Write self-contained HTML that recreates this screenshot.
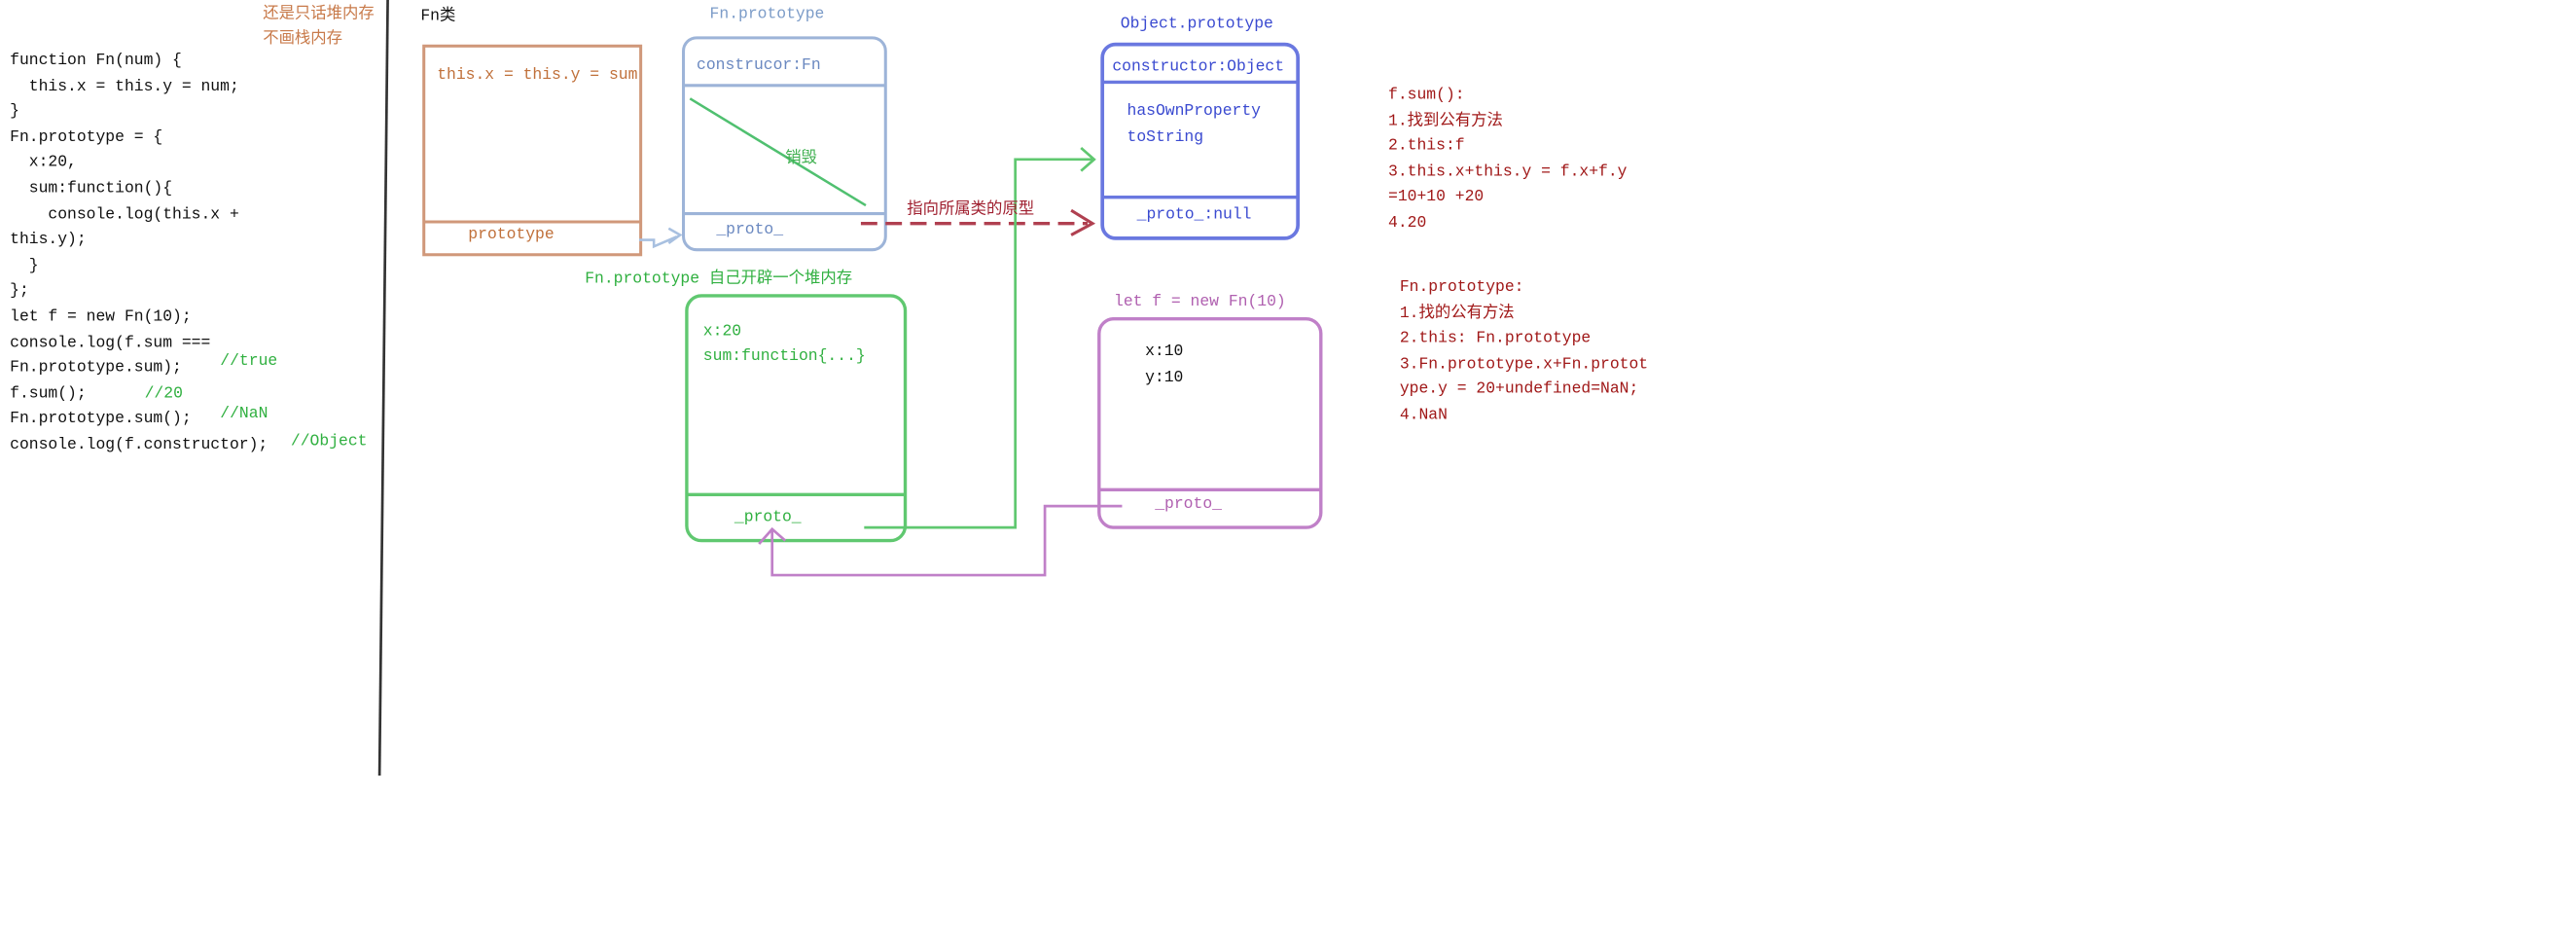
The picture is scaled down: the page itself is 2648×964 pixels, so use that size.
<!DOCTYPE html>
<html><head><meta charset="utf-8"><style>
html,body{margin:0;padding:0;background:#fff;}
body{width:2648px;height:964px;overflow:hidden;position:relative;}
#w{position:absolute;left:0;top:0;width:1568px;height:571px;transform:scale(1.6888);transform-origin:0 0;}
.t{position:absolute;white-space:nowrap;font-family:"Liberation Mono","Noto Sans CJK SC",monospace;font-size:9.7px;line-height:12px;}
.b{position:absolute;box-sizing:border-box;}
</style></head><body><div id="w">
<svg width="1568" height="571" style="position:absolute;left:0;top:0">
<line x1="236" y1="0" x2="231" y2="472" stroke="#333" stroke-width="1.6"/>
<rect x="258" y="28" width="132" height="127" fill="none" stroke="#d0987a" stroke-width="1.8"/>
<line x1="258" y1="135" x2="390" y2="135" stroke="#d0987a" stroke-width="1.8"/>
<path d="M389 146 L398 146 L398 150 L412 144" fill="none" stroke="#a8c0e0" stroke-width="1.5"/>
<path d="M407 139 L414 143 L407 148" fill="none" stroke="#a8c0e0" stroke-width="1.5"/>
<rect x="416" y="23" width="123" height="129" rx="8" fill="none" stroke="#9db4d8" stroke-width="1.8"/>
<line x1="416" y1="52" x2="539" y2="52" stroke="#9db4d8" stroke-width="1.8"/>
<line x1="416" y1="130" x2="539" y2="130" stroke="#9db4d8" stroke-width="1.8"/>
<line x1="420" y1="60" x2="527" y2="125" stroke="#50c070" stroke-width="1.5"/>
<line x1="524" y1="136" x2="662" y2="136" stroke="#b04050" stroke-width="2" stroke-dasharray="10,5"/>
<path d="M652 128 L665 136 L652 143" fill="none" stroke="#b04050" stroke-width="1.8"/>
<rect x="671" y="27" width="119" height="118" rx="8" fill="none" stroke="#6a78e0" stroke-width="2.2"/>
<line x1="671" y1="50" x2="790" y2="50" stroke="#6a78e0" stroke-width="2"/>
<line x1="671" y1="120" x2="790" y2="120" stroke="#6a78e0" stroke-width="2"/>
<rect x="418" y="180" width="133" height="149" rx="9" fill="none" stroke="#60c870" stroke-width="2"/>
<line x1="418" y1="301" x2="551" y2="301" stroke="#60c870" stroke-width="2"/>
<polyline points="526,321 618,321 618,97 665,97" fill="none" stroke="#60c870" stroke-width="1.6"/>
<path d="M658 90 L666 97 L658 104" fill="none" stroke="#60c870" stroke-width="1.6"/>
<rect x="669" y="194" width="135" height="127" rx="9" fill="none" stroke="#c080c8" stroke-width="2"/>
<line x1="669" y1="298" x2="804" y2="298" stroke="#c080c8" stroke-width="2"/>
<polyline points="683,308 636,308 636,350 470,350 470,323" fill="none" stroke="#c080c8" stroke-width="1.6"/>
<path d="M462 331 L470 322 L478 329" fill="none" stroke="#c080c8" stroke-width="1.6"/>
</svg>
<div class="t" style="left:6px;top:29px;color:#111;line-height:15.6px;white-space:pre">function Fn(num) {
  this.x = this.y = num;
}
Fn.prototype = {
  x:20,
  sum:function(){
    console.log(this.x +
this.y);
  }
};
let f = new Fn(10);
console.log(f.sum ===
Fn.prototype.sum);
f.sum();
Fn.prototype.sum();
console.log(f.constructor);</div>
<div class="t" style="left:134px;top:214px;color:#30b040">//true</div>
<div class="t" style="left:88px;top:234px;color:#30b040">//20</div>
<div class="t" style="left:134px;top:246px;color:#30b040">//NaN</div>
<div class="t" style="left:177px;top:263px;color:#30b040">//Object</div>
<div class="t" style="left:160px;top:3px;color:#c87a4a">还是只话堆内存</div>
<div class="t" style="left:160px;top:18px;color:#c87a4a">不画栈内存</div>
<div class="t" style="left:256px;top:4px;color:#111">Fn类</div>
<div class="t" style="left:266px;top:40px;color:#c0703a">this.x = this.y = sum</div>
<div class="t" style="left:285px;top:137px;color:#c0703a">prototype</div>
<div class="t" style="left:432px;top:3px;color:#7c9cc8">Fn.prototype</div>
<div class="t" style="left:424px;top:34px;color:#6a88c0">construcor:Fn</div>
<div class="t" style="left:478px;top:91px;color:#40b050">销毁</div>
<div class="t" style="left:436px;top:134px;color:#6a88c0">_proto_</div>
<div class="t" style="left:552px;top:122px;color:#a02030">指向所属类的原型</div>
<div class="t" style="left:682px;top:9px;color:#3a4ad0">Object.prototype</div>
<div class="t" style="left:677px;top:35px;color:#3a4ad0">constructor:Object</div>
<div class="t" style="left:686px;top:62px;color:#3a4ad0">hasOwnProperty</div>
<div class="t" style="left:686px;top:78px;color:#3a4ad0">toString</div>
<div class="t" style="left:692px;top:125px;color:#3a4ad0">_proto_:null</div>
<div class="t" style="left:356px;top:164px;color:#30b040">Fn.prototype 自己开辟一个堆内存</div>
<div class="t" style="left:428px;top:196px;color:#30b040">x:20</div>
<div class="t" style="left:428px;top:211px;color:#30b040">sum:function{...}</div>
<div class="t" style="left:447px;top:309px;color:#30b040">_proto_</div>
<div class="t" style="left:678px;top:178px;color:#b060b0">let f = new Fn(10)</div>
<div class="t" style="left:697px;top:208px;color:#111">x:10</div>
<div class="t" style="left:697px;top:224px;color:#111">y:10</div>
<div class="t" style="left:703px;top:301px;color:#b060b0">_proto_</div>
<div class="t" style="left:845px;top:50px;color:#a01818;line-height:15.5px;white-space:pre">f.sum():
1.找到公有方法
2.this:f
3.this.x+this.y = f.x+f.y
=10+10 +20
4.20</div>
<div class="t" style="left:852px;top:167px;color:#a01818;line-height:15.5px;white-space:pre">Fn.prototype:
1.找的公有方法
2.this: Fn.prototype
3.Fn.prototype.x+Fn.protot
ype.y = 20+undefined=NaN;
4.NaN</div>
</div></body></html>
